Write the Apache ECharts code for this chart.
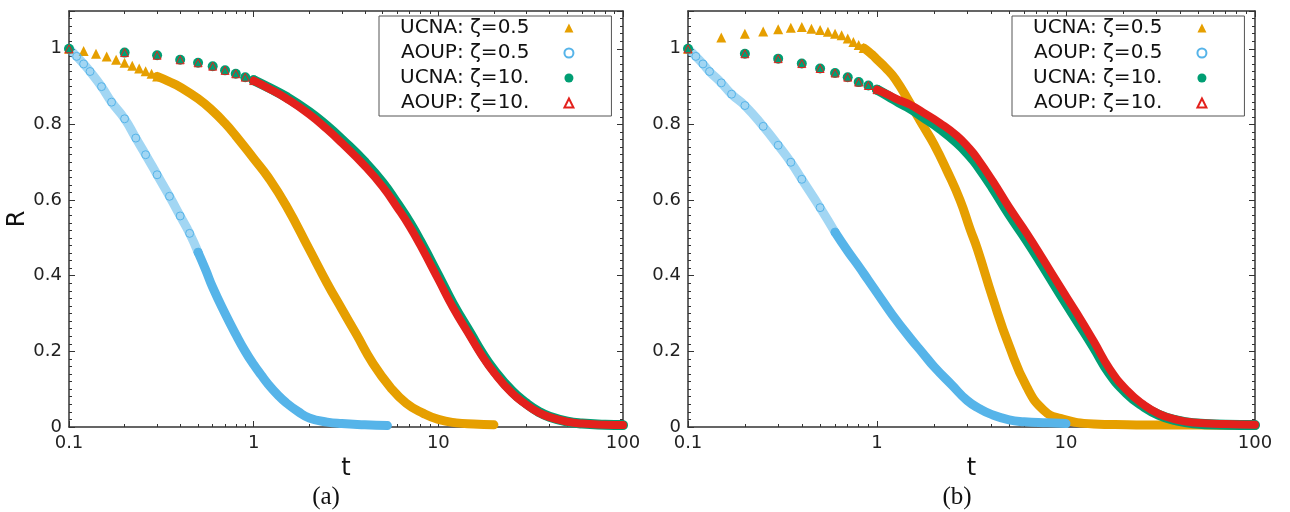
<!DOCTYPE html>
<html><head><meta charset="utf-8">
<script src="https://cdn.jsdelivr.net/npm/echarts@6/dist/echarts.min.js"></script>
<style>html,body{margin:0;padding:0;background:#fff}#c{width:1290px;height:512px}</style>
</head><body><div id="c"></div>
<script>
// ---------- data ----------
const seriesNames = ['UCNA: ζ=0.5', 'AOUP: ζ=0.5', 'UCNA: ζ=10.', 'AOUP: ζ=10.'];
const panelCaptions = ['(a)', '(b)'];

// panel (a)
const tA_ucna05 = [0.1,0.12,0.14,0.16,0.18,0.2,0.22,0.24,0.26,0.28,0.3,0.35,0.4,0.5,0.6,0.7,0.8,1.0,1.2,1.5,2.0,2.5,3.0,3.6,4.4,5.5,6.7,8.3,10,12.5,15.5,20];
const rA_ucna05 = [1.0,0.994,0.987,0.98,0.971,0.963,0.955,0.948,0.941,0.934,0.927,0.913,0.899,0.868,0.836,0.803,0.77,0.71,0.66,0.585,0.47,0.38,0.312,0.245,0.17,0.105,0.063,0.036,0.02,0.011,0.008,0.006];

const tA_aoup05 = [0.1,0.11,0.12,0.13,0.15,0.17,0.2,0.23,0.26,0.3,0.35,0.4,0.45,0.5,0.55,0.6,0.7,0.8,0.9,1.0,1.1,1.2,1.35,1.5,1.75,2.0,2.5,3.0,4.0,5.3];
const rA_aoup05 = [1.0,0.98,0.96,0.94,0.9,0.859,0.815,0.764,0.72,0.667,0.61,0.558,0.512,0.462,0.415,0.369,0.3,0.245,0.2,0.165,0.137,0.113,0.085,0.064,0.04,0.024,0.013,0.009,0.006,0.004];

const tA_10 = [0.1,0.2,0.3,0.4,0.5,0.6,0.7,0.8,0.9,1.0,1.2,1.5,2,2.5,3,4,5,6,7,8,10,12,15,17,20,25,30,35,40,50,60,80,100];
const rA_ucna10 = [1.0,0.99,0.983,0.971,0.963,0.954,0.943,0.934,0.925,0.917,0.898,0.873,0.833,0.795,0.76,0.70,0.645,0.59,0.54,0.49,0.40,0.325,0.245,0.2,0.15,0.095,0.062,0.04,0.027,0.014,0.009,0.006,0.005];
const rA_aoup10 = [1.0,0.99,0.983,0.971,0.963,0.954,0.943,0.934,0.925,0.916,0.896,0.869,0.827,0.787,0.751,0.69,0.635,0.58,0.53,0.48,0.39,0.316,0.237,0.193,0.144,0.09,0.059,0.038,0.026,0.014,0.009,0.006,0.005];

// panel (b)
const tB_ucna05 = [0.1,0.15,0.2,0.25,0.3,0.35,0.4,0.45,0.5,0.55,0.6,0.65,0.7,0.75,0.8,0.85,0.9,0.95,1.0,1.1,1.25,1.5,1.75,2.0,2.35,2.75,3.1,3.4,4.1,5.0,6.2,7.6,9.3,14,21,31,50,100];
const rB_ucna05 = [1.0,1.03,1.04,1.046,1.052,1.056,1.058,1.053,1.05,1.045,1.04,1.036,1.027,1.018,1.01,1.002,0.993,0.983,0.972,0.952,0.92,0.855,0.797,0.748,0.677,0.6,0.525,0.47,0.34,0.215,0.106,0.045,0.023,0.008,0.006,0.005,0.005,0.004];

const tB_aoup05 = [0.1,0.11,0.12,0.13,0.15,0.17,0.2,0.25,0.3,0.35,0.4,0.5,0.6,0.7,0.8,0.9,1.0,1.2,1.5,1.75,2.0,2.5,3.0,3.5,4.0,5.0,6.0,8.0,10];
const rB_aoup05 = [1.0,0.98,0.96,0.94,0.91,0.88,0.85,0.795,0.745,0.70,0.655,0.58,0.515,0.465,0.425,0.388,0.355,0.298,0.235,0.195,0.16,0.11,0.07,0.048,0.034,0.019,0.014,0.011,0.009];

const tB_10 = [0.1,0.2,0.3,0.4,0.5,0.6,0.7,0.8,0.9,1.0,1.15,1.3,1.5,1.75,2.15,2.65,3.1,3.4,4.1,5.0,6.2,7.6,9.3,11.4,14,17,21,25.6,31,38,47,70,100];
const rB_ucna10 = [1.0,0.987,0.974,0.961,0.948,0.936,0.925,0.912,0.903,0.892,0.875,0.859,0.842,0.82,0.789,0.752,0.717,0.692,0.632,0.563,0.494,0.424,0.353,0.283,0.212,0.142,0.089,0.055,0.032,0.018,0.01,0.006,0.005];
const rB_aoup10 = [1.0,0.987,0.974,0.961,0.948,0.936,0.925,0.912,0.903,0.892,0.878,0.865,0.852,0.832,0.804,0.77,0.735,0.71,0.65,0.581,0.512,0.442,0.371,0.301,0.227,0.154,0.097,0.06,0.035,0.02,0.012,0.008,0.006];

// ---------- styling ----------
const C_OR = '#E69F00', C_BL = '#56B4E9', C_GR = '#009E73', C_RD = '#E3211C';
const AX = '#333';
const FONT = 'DejaVu Sans';

function pairs(t, r, from, to) {
  const d = [];
  for (let i = 0; i < t.length; i++) if (t[i] >= from - 1e-9 && t[i] <= to + 1e-9) d.push([t[i], r[i]]);
  return d;
}
function band(key, t, r, from, to, color, width, opacity, xi, yi, z) {
  return {type: 'line', name: key, data: pairs(t, r, from, to), xAxisIndex: xi, yAxisIndex: yi,
    symbol: 'none', smooth: 0.5, silent: true, z: z,
    lineStyle: {color: color, width: width, opacity: opacity, cap: 'round', join: 'round'}};
}
function markers(name, t, r, upto, kind, xi, yi, z) {
  const s = {type: 'scatter', name: name, data: pairs(t, r, 0, upto), xAxisIndex: xi, yAxisIndex: yi, z: z, silent: true};
  if (kind === 'or') { s.symbol = 'triangle'; s.symbolSize = 10; s.itemStyle = {color: C_OR, opacity: 1}; }
  if (kind === 'bl') { s.symbol = 'circle'; s.symbolSize = 8; s.itemStyle = {color: 'rgba(255,255,255,0)', borderColor: C_BL, borderWidth: 1, opacity: 1}; }
  if (kind === 'gr') { s.symbol = 'circle'; s.symbolSize = 10; s.itemStyle = {color: C_GR, opacity: 1}; }
  if (kind === 'rd') { s.symbol = 'triangle'; s.symbolSize = 8; s.itemStyle = {color: 'rgba(255,255,255,0)', borderColor: C_RD, borderWidth: 1, opacity: 1}; }
  return s;
}

function panelSeries(p, t1, r1, t2, r2, t3, r3, r4, orFrom, blLight) {
  const xi = p * 2, yi = p * 2;
  return [
    markers(seriesNames[0], t1, r1, orFrom, 'or', xi, yi, 3),
    band('b_or' + p, t1, r1, orFrom, 1000, C_OR, 9, 1, xi, yi, 2),
    markers(seriesNames[1], t2, r2, blLight, 'bl', xi, yi, 5),
    band('b_bl1' + p, t2, r2, 0, blLight, C_BL, 9, 0.55, xi, yi, 4),
    band('b_bl2' + p, t2, r2, blLight, 1000, C_BL, 9, 1, xi, yi, 4),
    markers(seriesNames[2], t3, r3, 1.0, 'gr', xi, yi, 7),
    band('b_gr' + p, t3, r3, 1.0, 1000, C_GR, 10, 1, xi, yi, 6),
    markers(seriesNames[3], t3, r4, 1.0, 'rd', xi, yi, 9),
    band('b_rd' + p, t3, r4, 1.0, 1000, C_RD, 8, 1, xi, yi, 8)
  ];
}

function xAxes(g) {
  const base = {type: 'log', logBase: 10, min: 0.1, max: 100, gridIndex: g,
    axisLine: {show: true, onZero: false, lineStyle: {color: AX, width: 1.5}},
    axisTick: {show: true, inside: true, length: 6, lineStyle: {color: AX, width: 1}},
    minorTick: {show: true, splitNumber: 9, length: 3, lineStyle: {color: AX, width: 1}},
    splitLine: {show: false}, minorSplitLine: {show: false}};
  return [
    Object.assign({}, base, {position: 'bottom',
      axisLabel: {show: true, fontSize: 18, fontFamily: FONT, color: '#222', margin: 7},
      name: 't', nameLocation: 'middle', nameGap: 24,
      nameTextStyle: {fontSize: 24, fontFamily: FONT, color: '#111'}}),
    Object.assign({}, base, {position: 'top', axisLabel: {show: false}})
  ];
}
function yAxes(g, withName) {
  const base = {type: 'value', min: 0, max: 1.1, interval: 0.2, gridIndex: g,
    axisLine: {show: true, onZero: false, lineStyle: {color: AX, width: 1.5}},
    axisTick: {show: true, inside: true, length: 6, lineStyle: {color: AX, width: 1}},
    minorTick: {show: true, splitNumber: 10, length: 3, lineStyle: {color: AX, width: 1}},
    splitLine: {show: false}, minorSplitLine: {show: false}};
  const left = Object.assign({}, base, {position: 'left',
    axisLabel: {show: true, fontSize: 18, fontFamily: FONT, color: '#222', margin: 7, showMaxLabel: false}});
  if (withName) Object.assign(left, {name: 'R', nameLocation: 'middle', nameGap: 37,
    nameTextStyle: {fontSize: 24, fontFamily: FONT, color: '#111'}});
  return [left, Object.assign({}, base, {position: 'right', axisLabel: {show: false}})];
}

function legendFor(left) {
  return {orient: 'vertical', left: left, top: 16, align: 'right', selectedMode: false,
    itemWidth: 9, itemHeight: 9, itemGap: 5, padding: [2, 37, 3, 21],
    borderColor: '#555', borderWidth: 1, backgroundColor: '#fff',
    data: seriesNames.map(n => ({name: n})),
    textStyle: {fontSize: 20, fontFamily: FONT, color: '#111', padding: [0, 30, 0, 0]}};
}

const capStyle = {fontSize: 25, fontFamily: 'Liberation Serif', fill: '#111', align: 'center', verticalAlign: 'middle', textAlign: 'center', textVerticalAlign: 'middle'};
const option = {
  animation: false,
  backgroundColor: '#fff',
  grid: [
    {left: 69, top: 11, width: 554, height: 416, containLabel: false},
    {left: 688, top: 11, width: 567, height: 416, containLabel: false}
  ],
  xAxis: [...xAxes(0), ...xAxes(1)],
  yAxis: [...yAxes(0, true), ...yAxes(1, false)],
  legend: [legendFor(379), legendFor(1012)],
  graphic: [
    {type: 'text', x: 326, y: 497, style: Object.assign({text: panelCaptions[0]}, capStyle)},
    {type: 'text', x: 957, y: 497, style: Object.assign({text: panelCaptions[1]}, capStyle)}
  ],
  series: [
    ...panelSeries(0, tA_ucna05, rA_ucna05, tA_aoup05, rA_aoup05, tA_10, rA_ucna10, rA_aoup10, 0.3, 0.5),
    ...panelSeries(1, tB_ucna05, rB_ucna05, tB_aoup05, rB_aoup05, tB_10, rB_ucna10, rB_aoup10, 0.85, 0.6)
  ]
};
const chart = echarts.init(document.getElementById('c'), null, {renderer: 'canvas'});
chart.setOption(option);
</script></body></html>
